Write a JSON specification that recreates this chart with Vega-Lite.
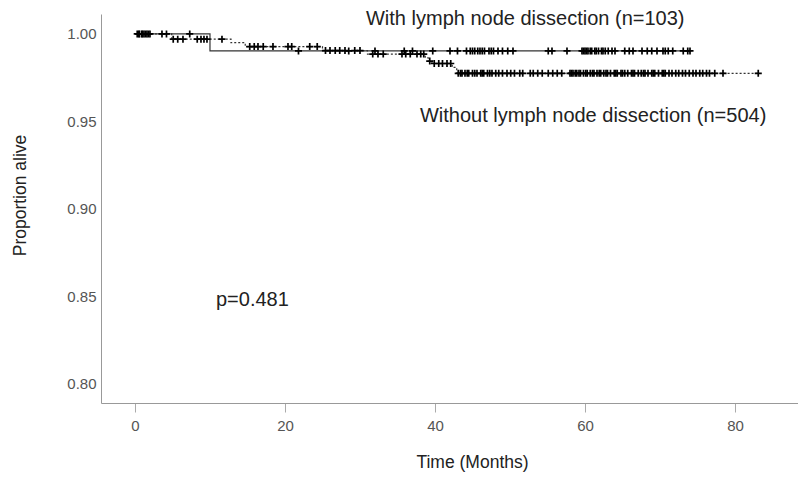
{
  "$schema": "https://vega.github.io/schema/vega-lite/v6.json",
  "width": 697,
  "height": 389,
  "autosize": {"type": "none"},
  "padding": {"left": 101, "top": 14, "right": 0, "bottom": 76},
  "background": "white",
  "config": {"view": {"stroke": null}, "font": "Liberation Sans"},
  "datasets": {
    "curve": [
      {"group": "with", "t": 0, "s": 1},
      {"group": "with", "t": 10, "s": 0.9903},
      {"group": "with", "t": 74, "s": 0.9903},
      {"group": "without", "t": 0, "s": 1},
      {"group": "without", "t": 4.9, "s": 0.997},
      {"group": "without", "t": 12.8, "s": 0.995},
      {"group": "without", "t": 14.7, "s": 0.9928},
      {"group": "without", "t": 25, "s": 0.9905},
      {"group": "without", "t": 31, "s": 0.9885},
      {"group": "without", "t": 38.7, "s": 0.9864},
      {"group": "without", "t": 39.1, "s": 0.9845},
      {"group": "without", "t": 39.6, "s": 0.9831},
      {"group": "without", "t": 42.3, "s": 0.9809},
      {"group": "without", "t": 42.9, "s": 0.9775},
      {"group": "without", "t": 83.3, "s": 0.9775}
    ],
    "censor": [
      {"t": 0.3, "s": 1}, {"t": 0.6, "s": 1}, {"t": 0.9, "s": 1}, {"t": 1.2, "s": 1}, {"t": 1.6, "s": 1}, {"t": 2.0, "s": 1}, {"t": 3.6, "s": 1}, {"t": 4.2, "s": 1}, {"t": 7.3, "s": 1},
      {"t": 0.5, "s": 1}, {"t": 1.0, "s": 1}, {"t": 1.4, "s": 1}, {"t": 1.8, "s": 1},
      {"t": 5.1, "s": 0.997}, {"t": 5.7, "s": 0.997}, {"t": 6.4, "s": 0.997}, {"t": 8.3, "s": 0.997}, {"t": 8.8, "s": 0.997}, {"t": 9.2, "s": 0.997}, {"t": 9.6, "s": 0.997}, {"t": 11.6, "s": 0.997},
      {"t": 15.3, "s": 0.9928}, {"t": 15.9, "s": 0.9928}, {"t": 16.4, "s": 0.9928}, {"t": 17.1, "s": 0.9928}, {"t": 18.4, "s": 0.9928}, {"t": 20.4, "s": 0.9928}, {"t": 20.9, "s": 0.9928}, {"t": 23.3, "s": 0.9928}, {"t": 24.3, "s": 0.9928},
      {"t": 25.4, "s": 0.9905}, {"t": 26.0, "s": 0.9905}, {"t": 26.7, "s": 0.9905}, {"t": 27.3, "s": 0.9905}, {"t": 28.0, "s": 0.9905}, {"t": 29.3, "s": 0.9905}, {"t": 30.0, "s": 0.9905},
      {"t": 21.8, "s": 0.9903}, {"t": 28.5, "s": 0.9903}, {"t": 32.0, "s": 0.9903}, {"t": 35.9, "s": 0.9903}, {"t": 37.0, "s": 0.9903}, {"t": 39.7, "s": 0.9903}, {"t": 42.0, "s": 0.9903}, {"t": 43.0, "s": 0.9903}, {"t": 44.2, "s": 0.9903}, {"t": 44.7, "s": 0.9903}, {"t": 45.0, "s": 0.9903}, {"t": 45.3, "s": 0.9903}, {"t": 45.7, "s": 0.9903}, {"t": 46.0, "s": 0.9903}, {"t": 46.3, "s": 0.9903}, {"t": 46.6, "s": 0.9903}, {"t": 47.2, "s": 0.9903}, {"t": 47.5, "s": 0.9903}, {"t": 47.8, "s": 0.9903}, {"t": 48.4, "s": 0.9903}, {"t": 49.0, "s": 0.9903}, {"t": 49.7, "s": 0.9903}, {"t": 50.4, "s": 0.9903}, {"t": 55.1, "s": 0.9903}, {"t": 55.6, "s": 0.9903}, {"t": 57.6, "s": 0.9903}, {"t": 59.6, "s": 0.9903}, {"t": 59.8, "s": 0.9903}, {"t": 60.0, "s": 0.9903}, {"t": 60.2, "s": 0.9903}, {"t": 60.4, "s": 0.9903}, {"t": 60.7, "s": 0.9903}, {"t": 60.9, "s": 0.9903}, {"t": 61.3, "s": 0.9903}, {"t": 61.5, "s": 0.9903}, {"t": 61.8, "s": 0.9903}, {"t": 62.2, "s": 0.9903}, {"t": 62.4, "s": 0.9903}, {"t": 62.7, "s": 0.9903}, {"t": 63.1, "s": 0.9903}, {"t": 63.6, "s": 0.9903}, {"t": 64.0, "s": 0.9903}, {"t": 65.3, "s": 0.9903}, {"t": 65.9, "s": 0.9903}, {"t": 66.4, "s": 0.9903}, {"t": 67.6, "s": 0.9903}, {"t": 68.3, "s": 0.9903}, {"t": 68.9, "s": 0.9903}, {"t": 69.6, "s": 0.9903}, {"t": 70.4, "s": 0.9903}, {"t": 70.7, "s": 0.9903}, {"t": 71.1, "s": 0.9903}, {"t": 71.7, "s": 0.9903}, {"t": 73.1, "s": 0.9903}, {"t": 73.7, "s": 0.9903}, {"t": 74.0, "s": 0.9903},
      {"t": 31.7, "s": 0.9885}, {"t": 32.4, "s": 0.9885}, {"t": 33.1, "s": 0.9885}, {"t": 35.6, "s": 0.9885}, {"t": 36.1, "s": 0.9885}, {"t": 36.7, "s": 0.9885}, {"t": 37.6, "s": 0.9885}, {"t": 38.1, "s": 0.9885}, {"t": 38.5, "s": 0.9885},
      {"t": 39.3, "s": 0.9845},
      {"t": 39.9, "s": 0.9831}, {"t": 40.5, "s": 0.9831}, {"t": 41.0, "s": 0.9831}, {"t": 41.6, "s": 0.9831}, {"t": 42.1, "s": 0.9831},
      {"t": 43.1, "s": 0.9775}, {"t": 43.4, "s": 0.9775}, {"t": 43.6, "s": 0.9775}, {"t": 44.0, "s": 0.9775}, {"t": 44.3, "s": 0.9775}, {"t": 44.5, "s": 0.9775}, {"t": 45.0, "s": 0.9775}, {"t": 45.3, "s": 0.9775}, {"t": 45.6, "s": 0.9775}, {"t": 46.1, "s": 0.9775}, {"t": 46.3, "s": 0.9775}, {"t": 46.5, "s": 0.9775}, {"t": 47.0, "s": 0.9775}, {"t": 47.3, "s": 0.9775}, {"t": 47.6, "s": 0.9775}, {"t": 48.1, "s": 0.9775}, {"t": 48.5, "s": 0.9775}, {"t": 49.0, "s": 0.9775}, {"t": 49.6, "s": 0.9775}, {"t": 50.1, "s": 0.9775}, {"t": 50.6, "s": 0.9775}, {"t": 51.3, "s": 0.9775}, {"t": 51.7, "s": 0.9775}, {"t": 52.7, "s": 0.9775}, {"t": 53.1, "s": 0.9775}, {"t": 53.7, "s": 0.9775}, {"t": 54.3, "s": 0.9775}, {"t": 55.1, "s": 0.9775}, {"t": 55.7, "s": 0.9775}, {"t": 56.3, "s": 0.9775}, {"t": 56.9, "s": 0.9775}, {"t": 58.0, "s": 0.9775}, {"t": 58.2, "s": 0.9775}, {"t": 58.4, "s": 0.9775}, {"t": 58.7, "s": 0.9775}, {"t": 58.9, "s": 0.9775}, {"t": 59.2, "s": 0.9775}, {"t": 59.4, "s": 0.9775}, {"t": 59.8, "s": 0.9775}, {"t": 60.1, "s": 0.9775}, {"t": 60.3, "s": 0.9775}, {"t": 60.7, "s": 0.9775}, {"t": 61.0, "s": 0.9775}, {"t": 61.2, "s": 0.9775}, {"t": 61.6, "s": 0.9775}, {"t": 61.9, "s": 0.9775}, {"t": 62.1, "s": 0.9775}, {"t": 62.5, "s": 0.9775}, {"t": 62.8, "s": 0.9775}, {"t": 63.0, "s": 0.9775}, {"t": 63.4, "s": 0.9775}, {"t": 63.9, "s": 0.9775}, {"t": 64.1, "s": 0.9775}, {"t": 64.3, "s": 0.9775}, {"t": 64.8, "s": 0.9775}, {"t": 65.0, "s": 0.9775}, {"t": 65.3, "s": 0.9775}, {"t": 65.7, "s": 0.9775}, {"t": 66.2, "s": 0.9775}, {"t": 66.4, "s": 0.9775}, {"t": 66.6, "s": 0.9775}, {"t": 67.1, "s": 0.9775}, {"t": 67.5, "s": 0.9775}, {"t": 67.8, "s": 0.9775}, {"t": 68.0, "s": 0.9775}, {"t": 68.4, "s": 0.9775}, {"t": 68.9, "s": 0.9775}, {"t": 69.1, "s": 0.9775}, {"t": 69.3, "s": 0.9775}, {"t": 69.8, "s": 0.9775}, {"t": 70.3, "s": 0.9775}, {"t": 70.5, "s": 0.9775}, {"t": 70.7, "s": 0.9775}, {"t": 71.2, "s": 0.9775}, {"t": 71.6, "s": 0.9775}, {"t": 72.1, "s": 0.9775}, {"t": 72.5, "s": 0.9775}, {"t": 73.0, "s": 0.9775}, {"t": 73.4, "s": 0.9775}, {"t": 73.9, "s": 0.9775}, {"t": 74.4, "s": 0.9775}, {"t": 74.8, "s": 0.9775}, {"t": 75.3, "s": 0.9775}, {"t": 75.7, "s": 0.9775}, {"t": 76.2, "s": 0.9775}, {"t": 76.6, "s": 0.9775}, {"t": 77.3, "s": 0.9775}, {"t": 78.4, "s": 0.9775}, {"t": 83.1, "s": 0.9775}
    ],
    "labels": [
      {"t": 30.8, "s": 1.0083, "label": "With lymph node dissection (n=103)"},
      {"t": 38.0, "s": 0.9529, "label": "Without lymph node dissection (n=504)"},
      {"t": 10.8, "s": 0.8478, "label": "p=0.481"}
    ]
  },
  "layer": [
    {
      "data": {"name": "curve"},
      "mark": {"type": "line", "interpolate": "step-after", "color": "#333333", "strokeWidth": 1.2},
      "encoding": {
        "x": {
          "field": "t", "type": "quantitative",
          "scale": {"domain": [-4.53, 88.4], "nice": false, "zero": false},
          "axis": {
            "values": [0, 20, 40, 60, 80], "title": "Time (Months)", "grid": false,
            "domainColor": "#999999", "tickColor": "#aaaaaa", "tickSize": 9,
            "labelColor": "#555555", "labelFontSize": 15, "labelPadding": 6, "labelFlush": false,
            "titleFontSize": 17.5, "titleFontWeight": "normal", "titleColor": "#222222",
            "titleX": 371, "titleY": 59, "titleBaseline": "middle"
          }
        },
        "y": {
          "field": "s", "type": "quantitative",
          "scale": {"domain": [0.7891, 1.0114], "nice": false, "zero": false},
          "axis": {
            "values": [0.8, 0.85, 0.9, 0.95, 1.0], "format": ".2f", "title": "Proportion alive", "grid": false,
            "ticks": false, "domainColor": "#999999",
            "labelColor": "#555555", "labelFontSize": 15, "labelPadding": 5, "labelFlush": false,
            "titleFontSize": 17.5, "titleFontWeight": "normal", "titleColor": "#222222",
            "titleX": -81, "titleY": 181, "titleBaseline": "middle", "titleAngle": -90, "titleAlign": "center"
          }
        },
        "strokeDash": {
          "field": "group", "type": "nominal",
          "scale": {"domain": ["with", "without"], "range": [[1, 0], [2, 2]]},
          "legend": null
        }
      }
    },
    {
      "data": {"name": "censor"},
      "mark": {"type": "point", "shape": "M-1,0L1,0M0,-1L0,1", "filled": false, "stroke": "black", "strokeWidth": 1.7, "size": 50, "opacity": 1},
      "encoding": {
        "x": {"field": "t", "type": "quantitative"},
        "y": {"field": "s", "type": "quantitative"}
      }
    },
    {
      "data": {"name": "labels"},
      "mark": {"type": "text", "align": "left", "baseline": "middle", "fontSize": 20, "color": "#222222"},
      "encoding": {
        "x": {"field": "t", "type": "quantitative"},
        "y": {"field": "s", "type": "quantitative"},
        "text": {"field": "label", "type": "nominal"}
      }
    }
  ]
}
